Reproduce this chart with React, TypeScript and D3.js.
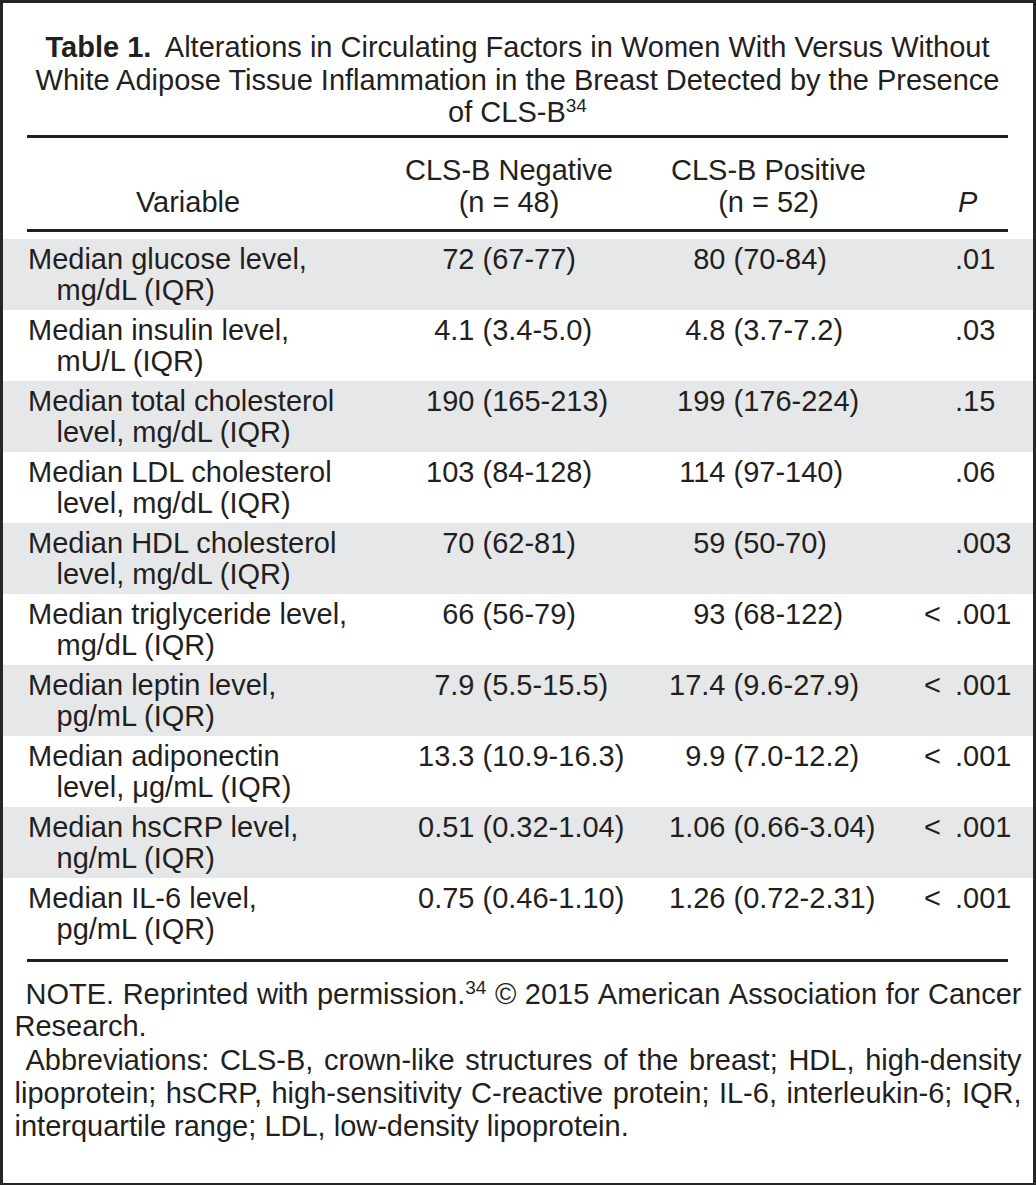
import React, { useEffect, useRef } from "react";
import * as d3 from "d3";

const W = 1036;
const H = 1185;

// ---- content ----
const titleBold = "Table 1.";
const titleLine1 = "Alterations in Circulating Factors in Women With Versus Without";
const titleLine2 = "White Adipose Tissue Inflammation in the Breast Detected by the Presence";
const titleLine3 = "of CLS-B^{34}";

const headerVariable = "Variable";
const headerNeg = ["CLS-B Negative", "(n = 48)"];
const headerPos = ["CLS-B Positive", "(n = 52)"];
const headerP = "P";

const variableLine1 = [
  "Median glucose level,",
  "Median insulin level,",
  "Median total cholesterol",
  "Median LDL cholesterol",
  "Median HDL cholesterol",
  "Median triglyceride level,",
  "Median leptin level,",
  "Median adiponectin",
  "Median hsCRP level,",
  "Median IL-6 level,",
];
const variableLine2 = [
  "mg/dL (IQR)",
  "mU/L (IQR)",
  "level, mg/dL (IQR)",
  "level, mg/dL (IQR)",
  "level, mg/dL (IQR)",
  "mg/dL (IQR)",
  "pg/mL (IQR)",
  "level, \u03bcg/mL (IQR)",
  "ng/mL (IQR)",
  "pg/mL (IQR)",
];
const negMedian = ["72", "4.1", "190", "103", "70", "66", "7.9", "13.3", "0.51", "0.75"];
const negIQR = ["67-77", "3.4-5.0", "165-213", "84-128", "62-81", "56-79", "5.5-15.5", "10.9-16.3", "0.32-1.04", "0.46-1.10"];
const posMedian = ["80", "4.8", "199", "114", "59", "93", "17.4", "9.9", "1.06", "1.26"];
const posIQR = ["70-84", "3.7-7.2", "176-224", "97-140", "50-70", "68-122", "9.6-27.9", "7.0-12.2", "0.66-3.04", "0.72-2.31"];
const pValues = [".01", ".03", ".15", ".06", ".003", "< .001", "< .001", "< .001", "< .001", "< .001"];

// footnote lines: [text, justified, indent]
const footLines: [string, boolean, boolean][] = [
  ["NOTE. Reprinted with permission.^{34} \u00a9 2015 American Association for Cancer", true, true],
  ["Research.", false, false],
  ["Abbreviations: CLS-B, crown-like structures of the breast; HDL, high-density", true, true],
  ["lipoprotein; hsCRP, high-sensitivity C-reactive protein; IL-6, interleukin-6; IQR,", true, false],
  ["interquartile range; LDL, low-density lipoprotein.", false, false],
];
const footBaselines = [1004, 1036, 1070, 1103, 1136];

const FONT = "'Liberation Sans', Arial, Helvetica, sans-serif";
const FS = 29;
const INK = "#231f20";
const STRIPE = "#e6e7e8";

function addRich(sel: any, str: string) {
  const parts = str.split(/\^\{([^}]*)\}/);
  let raised = false;
  parts.forEach((p, i) => {
    if (p === "") return;
    const isSup = i % 2 === 1;
    const t = sel.append("tspan").text(p);
    if (isSup) {
      t.attr("font-size", 19).attr("dy", -10);
      raised = true;
    } else if (raised) {
      t.attr("dy", 10);
      raised = false;
    }
  });
}

export default function App() {
  const ref = useRef<SVGSVGElement>(null);

  useEffect(() => {
    document.body.style.margin = "0";
    const svg = d3.select(ref.current);
    svg.selectAll("*").remove();
    svg.attr("font-family", FONT).attr("font-size", FS).attr("fill", INK);

    // frame
    svg.append("rect").attr("x", 0).attr("y", 0).attr("width", W).attr("height", H).attr("fill", "#262626");
    svg.append("rect").attr("x", 3).attr("y", 3).attr("width", W - 6).attr("height", H - 5).attr("fill", "#fff");

    const n = variableLine1.length;
    const y = d3.scaleBand<number>().domain(d3.range(n)).range([239, 949]);
    const tableL = 27, tableR = 1008;
    const cx = (tableL + tableR) / 2;

    // stripes
    svg.append("g").selectAll("rect").data(d3.range(n).filter((i) => i % 2 === 0)).join("rect")
      .attr("x", 3).attr("width", W - 6)
      .attr("y", (i) => y(i)!).attr("height", y.bandwidth())
      .attr("fill", STRIPE);

    // rules
    [136.5, 230.5, 960.5].forEach((ry) => {
      svg.append("line").attr("x1", tableL).attr("x2", tableR).attr("y1", ry).attr("y2", ry)
        .attr("stroke", INK).attr("stroke-width", 3);
    });

    // title
    const t1 = svg.append("text").attr("x", cx).attr("y", 57).attr("text-anchor", "middle");
    t1.append("tspan").attr("font-weight", "bold").text(titleBold);
    t1.append("tspan").attr("dx", 7).text(" " + titleLine1);
    svg.append("text").attr("x", cx).attr("y", 90).attr("text-anchor", "middle").text(titleLine2);
    const t3 = svg.append("text").attr("x", cx).attr("y", 122).attr("text-anchor", "middle");
    addRich(t3, titleLine3);

    // header
    const colVar = 188, colNeg = 509, colPos = 768.5;
    const parenNeg = 482.5, parenPos = 733.5, pX = 955;
    svg.append("text").attr("x", colVar).attr("y", 212).attr("text-anchor", "middle").text(headerVariable);
    headerNeg.forEach((s, k) => svg.append("text").attr("x", colNeg).attr("y", 180 + 32 * k).attr("text-anchor", "middle").text(s));
    headerPos.forEach((s, k) => svg.append("text").attr("x", colPos).attr("y", 180 + 32 * k).attr("text-anchor", "middle").text(s));
    svg.append("text").attr("x", pX + 3).attr("y", 212).attr("font-style", "italic").text(headerP);

    // body
    const gap = 8;
    const body = svg.append("g");
    d3.range(n).forEach((i) => {
      const b1 = y(i)! + 30;
      const b2 = b1 + 31;
      body.append("text").attr("x", 28).attr("y", b1).text(variableLine1[i]);
      body.append("text").attr("x", 56.5).attr("y", b2).text(variableLine2[i]);
      body.append("text").attr("x", parenNeg - gap).attr("y", b1).attr("text-anchor", "end").text(negMedian[i]);
      body.append("text").attr("x", parenNeg).attr("y", b1).text(`(${negIQR[i]})`);
      body.append("text").attr("x", parenPos - gap).attr("y", b1).attr("text-anchor", "end").text(posMedian[i]);
      body.append("text").attr("x", parenPos).attr("y", b1).text(`(${posIQR[i]})`);
      const parts = pValues[i].split(" ");
      if (parts.length > 1) {
        body.append("text").attr("x", pX - 14).attr("y", b1).attr("text-anchor", "end").text(parts[0]);
      }
      body.append("text").attr("x", pX).attr("y", b1).text(parts[parts.length - 1]);
    });

    // footnote (justified)
    const fL = 14.5, fR = 1021.5, indent = 11;
    const foot = svg.append("g");
    footLines.forEach(([line, just, ind], li) => {
      const words = line.split(" ");
      const x0 = fL + (ind ? indent : 0);
      const nodes = words.map((w) => {
        const t = foot.append("text").attr("y", footBaselines[li]);
        addRich(t, w);
        return t;
      });
      const widths = nodes.map((t) => (t.node() as SVGTextElement).getComputedTextLength());
      const total = d3.sum(widths);
      const sp = just && words.length > 1 ? (fR - x0 - total) / (words.length - 1) : FS * 0.278;
      let x = x0;
      nodes.forEach((t, k) => {
        t.attr("x", x);
        x += widths[k] + sp;
      });
    });
  }, []);

  return <svg ref={ref} width={W} height={H} style={{ display: "block" }} />;
}
